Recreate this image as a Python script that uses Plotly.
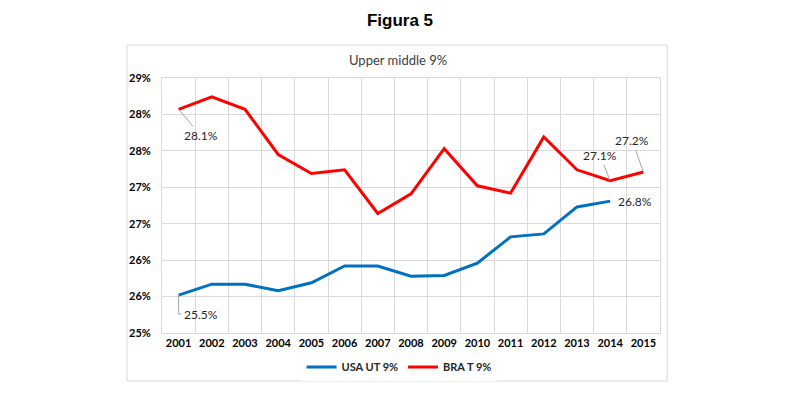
import plotly.graph_objects as go

years = list(range(2001, 2016))
usa_ut = [25.52, 25.67, 25.67, 25.58, 25.69, 25.92, 25.92, 25.78, 25.79, 25.96, 26.32, 26.36, 26.73, 26.81]
bra_t = [28.07, 28.24, 28.07, 27.45, 27.19, 27.24, 26.64, 26.91, 27.53, 27.02, 26.92, 27.69, 27.24, 27.09, 27.21]
y_tick_vals = [25.0, 25.5, 26.0, 26.5, 27.0, 27.5, 28.0, 28.5]
y_tick_labels = ["25%", "26%", "26%", "27%", "27%", "28%", "28%", "29%"]
x_bounds = [y - 0.5 for y in years] + [years[-1] + 0.5]

BLUE = "#0070C0"
RED = "#FF0000"
GRID = "#D9D9D9"
FONT = "Lato"

fig = go.Figure()
fig.add_trace(go.Scatter(x=years[:len(usa_ut)], y=usa_ut, mode="lines", name="USA UT 9%",
                         line=dict(color=BLUE, width=3)))
fig.add_trace(go.Scatter(x=years, y=bra_t, mode="lines", name="BRA T 9%",
                         line=dict(color=RED, width=3)))

lab_font = dict(family=FONT, size=12, color="#262626")
# data labels
fig.add_annotation(x=years[0], y=bra_t[0], text=f"{bra_t[0]:.1f}%", showarrow=True, arrowhead=0,
                   arrowcolor="#A6A6A6", arrowwidth=1, standoff=0, ax=22, ay=26, font=lab_font)
fig.add_annotation(x=years[13], y=bra_t[13], text=f"{bra_t[13]:.1f}%", showarrow=True, arrowhead=0,
                   arrowcolor="#A6A6A6", arrowwidth=1, standoff=0, ax=-10, ay=-25, font=lab_font)
fig.add_annotation(x=years[14], y=bra_t[14], text=f"{bra_t[14]:.1f}%", showarrow=True, arrowhead=0,
                   arrowcolor="#A6A6A6", arrowwidth=1, standoff=0, ax=-11, ay=-31, font=lab_font)
fig.add_annotation(x=years[len(usa_ut) - 1], y=usa_ut[-1], text=f"{usa_ut[-1]:.1f}%", showarrow=False,
                   xanchor="left", xshift=6, font=lab_font)
fig.add_annotation(x=years[0], y=usa_ut[0], text=f"{usa_ut[0]:.1f}%", showarrow=False,
                   xanchor="left", xshift=3, yshift=-19, font=lab_font)
fig.add_shape(type="path", xref="x", yref="y", xsizemode="pixel", ysizemode="pixel",
              xanchor=years[0], yanchor=usa_ut[0], path="M0,0 L0,-19 L3,-19",
              line=dict(color="#A6A6A6", width=1))

# chart box
fig.add_shape(type="rect", xref="paper", yref="paper", x0=-0.0703, x1=1.0145, y0=-0.188, y1=1.129,
              line=dict(color="#D9D9D9", width=1), layer="below")
fig.add_annotation(xref="paper", yref="paper", x=0.474, y=1.0706, text="Upper middle 9%",
                   showarrow=False, yanchor="middle", font=dict(family=FONT, size=13, color="#404040"))

fig.update_layout(
    width=800, height=396,
    margin=dict(l=162, r=140, t=78, b=63),
    paper_bgcolor="white", plot_bgcolor="white",
    title=dict(text="<b>Figura 5</b>", x=0.5, xanchor="center", y=1 - 20 / 396, yanchor="middle",
               font=dict(family="Liberation Sans", size=17, color="black")),
    showlegend=True,
    legend=dict(orientation="h", x=0.476, xanchor="center", y=-0.133, yanchor="middle",
                font=dict(family=FONT, size=11, color="#262626", weight="bold"),
                itemwidth=30, tracegroupgap=0),
    xaxis=dict(range=[2000.5, 2015.5], tickvals=years, ticktext=[str(y) for y in years],
               showgrid=False, zeroline=False, showline=True, linecolor=GRID, mirror=True,
               ticks="", tickfont=dict(family=FONT, size=11, color="black", weight="bold"),
               minor=dict(tickvals=x_bounds, showgrid=True, gridcolor=GRID, gridwidth=1)),
    yaxis=dict(range=[25.0, 28.5], tickvals=y_tick_vals, ticktext=y_tick_labels,
               showgrid=True, gridcolor=GRID, gridwidth=1, zeroline=False, showline=True,
               linecolor=GRID, mirror=True, ticks="", ticklabelstandoff=8,
               tickfont=dict(family=FONT, size=11, color="black", weight="bold")),
)

fig.write_html("out.html", config={"displayModeBar": False},
               post_script="document.body.style.margin='0';document.body.style.overflow='hidden';")
